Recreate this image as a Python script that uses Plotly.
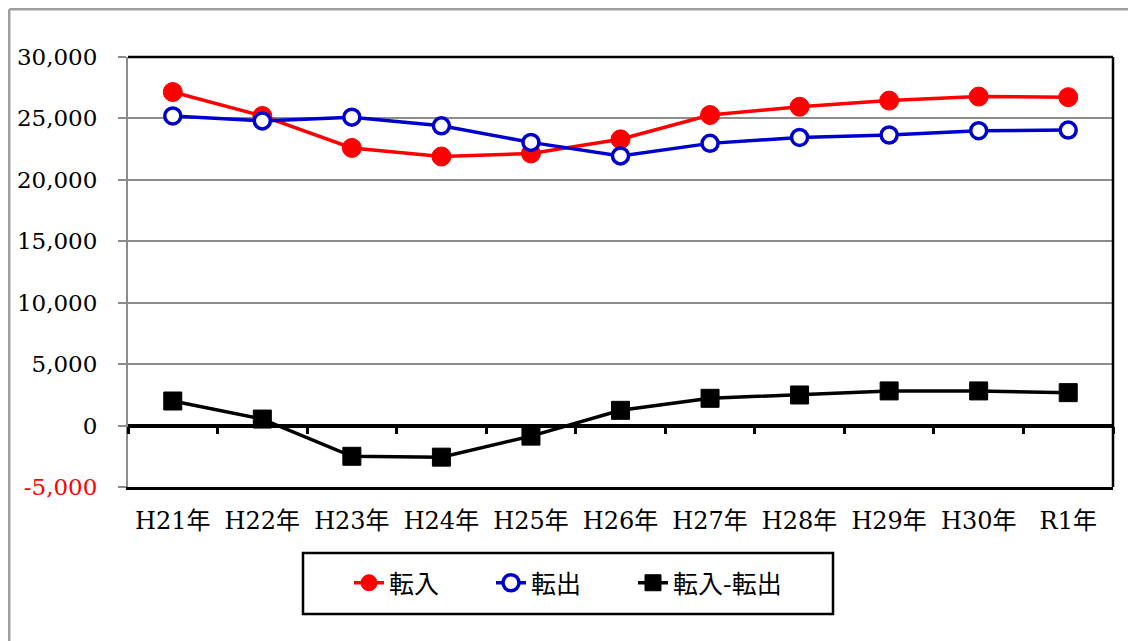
import plotly.graph_objects as go

categories = ["H21年", "H22年", "H23年", "H24年", "H25年", "H26年",
              "H27年", "H28年", "H29年", "H30年", "R1年"]
tennyu = [27150, 25200, 22600, 21900, 22150, 23300, 25280, 25950, 26450, 26780, 26730]
tenshutsu = [25200, 24800, 25100, 24400, 23050, 21950, 22970, 23450, 23650, 24000, 24050]
sabun = [2000, 530, -2500, -2570, -860, 1240, 2220, 2490, 2820, 2820, 2680]

series_names = ["転入", "転出", "転入-転出"]
y_tick_vals = [-5000, 0, 5000, 10000, 15000, 20000, 25000, 30000]
y_tick_text = ['<span style="color:#FF0000">-5,000</span>', "0", "5,000", "10,000",
               "15,000", "20,000", "25,000", "30,000"]

SERIF = "DejaVu Serif, Noto Sans CJK JP, serif"
SANS = "Noto Sans CJK JP, sans-serif"

# page has an 8px body margin; figure is sized/margined to compensate
L, R, T, B = 120, 23, 49, 154
W, H = 1128, 633
PW, PH = W - L - R, H - T - B  # 985 x 430


def px_x(fx):
    return (fx - L) / PW


def px_y(fy):
    return (H - B - fy) / PH


fig = go.Figure()

legend_ids = ["legend", "legend2", "legend3"]
colors = ["#FF0000", "#0000CC", "#000000"]
values = [tennyu, tenshutsu, sabun]
markers = [
    dict(symbol="circle", size=19, color="#FF0000", line=dict(color="#FF0000", width=1)),
    dict(symbol="circle", size=16, color="#FFFFFF", line=dict(color="#0000CC", width=3.5)),
    dict(symbol="square", size=18, color="#000000", line=dict(color="#000000", width=1)),
]
for name, vals, col, mk, lg in zip(series_names, values, colors, markers, legend_ids):
    fig.add_trace(go.Scatter(
        x=categories, y=vals, name=name, mode="lines+markers",
        line=dict(color=col, width=3.5), marker=mk, legend=lg,
    ))

# invisible helper trace so the zero-line axis carries the categories
fig.add_trace(go.Scatter(
    x=categories, y=sabun, xaxis="x2", mode="lines", showlegend=False,
    hoverinfo="skip", line=dict(width=0), opacity=0,
))

# legend box (page px 303..833 x, 553..614 y) -> figure px minus 8
box_x0, box_x1 = px_x(303 - 8), px_x(833 - 8)
box_y0, box_y1 = px_y(553 - 8), px_y(614 - 8)

cat_range = [-0.5, len(categories) - 0.5]

legend_common = dict(
    orientation="h", xanchor="left", y=px_y(583 - 8), yanchor="middle",
    borderwidth=0, bgcolor="rgba(0,0,0,0)",
    font=dict(family=SANS, size=25, color="#000000"),
)
legend_page_x = [349, 491, 633]

fig.update_layout(
    width=W, height=H,
    margin=dict(l=L, r=R, t=T, b=B, autoexpand=False),
    paper_bgcolor="white", plot_bgcolor="white",
    showlegend=True,
    legend=dict(x=px_x(legend_page_x[0] - 8), **legend_common),
    legend2=dict(x=px_x(legend_page_x[1] - 8), **legend_common),
    legend3=dict(x=px_x(legend_page_x[2] - 8), **legend_common),
    xaxis=dict(
        type="category", categoryorder="array", categoryarray=categories,
        range=cat_range, autorange=False, automargin=False,
        showline=True, linecolor="#000000", linewidth=2.5,
        ticks="", showgrid=False, zeroline=False,
        tickfont=dict(family=SERIF, size=24, color="#000000"),
        ticklabelstandoff=10,
    ),
    xaxis2=dict(
        type="category", categoryorder="array", categoryarray=categories,
        overlaying="x", matches="x", anchor="free", position=1/7,
        automargin=False,
        showline=True, linecolor="#000000", linewidth=2.5,
        ticks="outside", ticklen=7, tickwidth=2.5, tickcolor="#000000",
        tickson="boundaries", showticklabels=False, showgrid=False,
    ),
    yaxis=dict(
        range=[-5000, 30000], tickvals=y_tick_vals, ticktext=y_tick_text,
        automargin=False,
        showgrid=True, gridcolor="#8C8C8C", gridwidth=2,
        zeroline=True, zerolinecolor="#000000", zerolinewidth=2.5,
        showline=True, linecolor="#8C8C8C", linewidth=2,
        ticks="outside", ticklen=8, tickwidth=2, tickcolor="#8C8C8C",
        tickfont=dict(family=SERIF, size=23, color="#000000"),
        ticklabelstandoff=16,
    ),
    shapes=[
        dict(type="line", xref="paper", yref="paper", x0=0, x1=1, y0=1, y1=1,
             line=dict(color="#000000", width=2.5)),
        dict(type="line", xref="paper", yref="paper", x0=1, x1=1, y0=0, y1=1,
             line=dict(color="#000000", width=2.5)),
        # outer chart frame (top and left visible)
        dict(type="line", xref="paper", yref="paper", x0=px_x(1.25), x1=px_x(W + 10),
             y0=px_y(1.25), y1=px_y(1.25), line=dict(color="#A0A0A0", width=2.5)),
        dict(type="line", xref="paper", yref="paper", x0=px_x(1.25), x1=px_x(1.25),
             y0=px_y(1.25), y1=px_y(H + 10), line=dict(color="#A0A0A0", width=2.5)),
        # legend frame
        dict(type="rect", xref="paper", yref="paper", x0=box_x0, x1=box_x1,
             y0=box_y0, y1=box_y1, line=dict(color="#000000", width=2.5),
             fillcolor="rgba(0,0,0,0)", layer="below"),
    ],
)

fig.write_html("out.html")
